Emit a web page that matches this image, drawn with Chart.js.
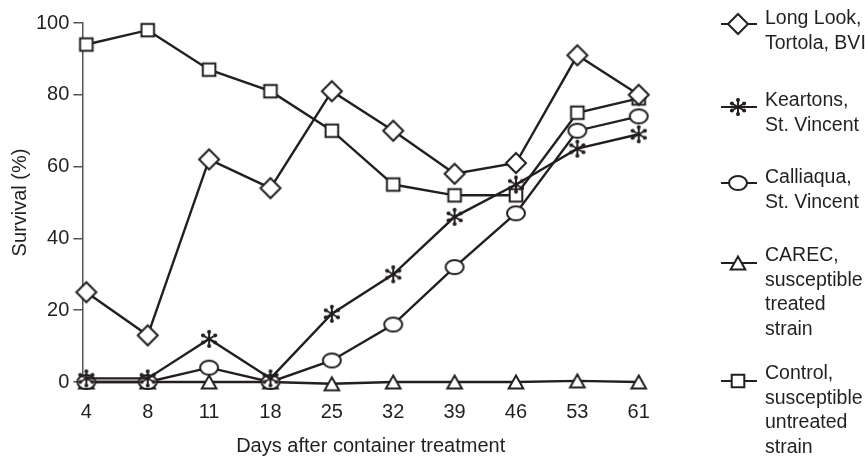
<!DOCTYPE html>
<html><head><meta charset="utf-8">
<script src="https://cdn.jsdelivr.net/npm/chart.js@4/dist/chart.umd.min.js"></script>
<style>html,body{margin:0;padding:0;background:#fff;}canvas{display:block;}</style>
</head><body>
<canvas id="c" width="865" height="457"></canvas>
<script>
// ---- data ----
const categories = ['4', '8', '11', '18', '25', '32', '39', '46', '53', '61'];
const yTicks = [0, 20, 40, 60, 80, 100];
const longLook  = [25, 13, 62, 54, 81, 70, 58, 61, 91, 80];
const keartons  = [1, 1, 12, 1, 19, 30, 46, 55, 65, 69];
const calliaqua = [0, 0, 4, 0, 6, 16, 32, 47, 70, 74];
const carec     = [0, 0, 0, 0, -0.5, 0, 0, 0, 0.3, 0];
const control   = [94, 98, 87, 81, 70, 55, 52, 52, 75, 79];
const seriesNames = ['Long Look, Tortola, BVI', 'Keartons, St. Vincent', 'Calliaqua, St. Vincent',
  'CAREC, susceptible treated strain', 'Control, susceptible untreated strain'];
const legendLines = [
  ['Long Look,', 'Tortola, BVI'],
  ['Keartons,', 'St. Vincent'],
  ['Calliaqua,', 'St. Vincent'],
  ['CAREC,', 'susceptible', 'treated', 'strain'],
  ['Control,', 'susceptible', 'untreated', 'strain']
];
const xTitle = 'Days after container treatment';
const yTitle = 'Survival (%)';

// ---- styling ----
const INK = '#231f20';
const FONT = "'Liberation Sans', Arial, sans-serif";
const FS = 20;
const LFS = 19.5;

function makeMarker(kind) {
  const s = 28, c = s / 2;
  const cv = document.createElement('canvas');
  cv.width = s; cv.height = s;
  const g = cv.getContext('2d');
  g.strokeStyle = INK; g.fillStyle = '#fff'; g.lineWidth = 2; g.lineJoin = 'miter';
  g.beginPath();
  if (kind === 'diamond') {
    const r = 10;
    g.moveTo(c, c - r); g.lineTo(c + r, c); g.lineTo(c, c + r); g.lineTo(c - r, c); g.closePath();
    g.fill(); g.stroke();
  } else if (kind === 'square') {
    const h = 6.3;
    g.rect(c - h, c - h, 2 * h, 2 * h); g.fill(); g.stroke();
  } else if (kind === 'ellipse') {
    g.ellipse(c, c, 9, 7, 0, 0, Math.PI * 2); g.fill(); g.stroke();
  } else if (kind === 'triangle') {
    g.moveTo(c, c - 6.5); g.lineTo(c + 7.3, c + 6.5); g.lineTo(c - 7.3, c + 6.5); g.closePath();
    g.fill(); g.stroke();
  } else if (kind === 'asterisk') {
    g.lineWidth = 2; g.fillStyle = INK; g.lineCap = 'round';
    for (let k = 0; k < 6; k++) {
      const a = Math.PI / 2 + k * Math.PI / 3;
      g.moveTo(c, c); g.lineTo(c + Math.cos(a) * 8, c - Math.sin(a) * 8);
    }
    g.stroke();
    for (let k = 0; k < 6; k++) {
      const a = Math.PI / 2 + k * Math.PI / 3;
      g.beginPath(); g.arc(c + Math.cos(a) * 7, c - Math.sin(a) * 7, 2, 0, Math.PI * 2); g.fill();
    }
  }
  return cv;
}
const markers = ['diamond', 'asterisk', 'ellipse', 'triangle', 'square'].map(makeMarker);
const seriesValues = [longLook, keartons, calliaqua, carec, control];

const datasets = seriesValues.map((vals, k) => ({
  label: seriesNames[k],
  data: vals.map((v, i) => ({ x: i, y: v })),
  borderColor: INK,
  backgroundColor: '#fff',
  borderWidth: 2.4,
  tension: 0,
  pointStyle: markers[k],
  pointRadius: 10,
  clip: false
}));

// custom legend drawn at the right side
const legendFirstY = [19, 101, 178, 256, 374];
const legendMarkerDy = [5, 6, 5, 7, 7];
const sideLegend = {
  id: 'sideLegend',
  afterDraw(chart) {
    const ctx = chart.ctx;
    ctx.save();
    ctx.font = LFS + 'px ' + FONT;
    ctx.fillStyle = INK;
    ctx.textBaseline = 'middle';
    ctx.textAlign = 'left';
    legendLines.forEach((lines, k) => {
      const y0 = legendFirstY[k];
      const my = y0 + legendMarkerDy[k];
      ctx.strokeStyle = INK; ctx.lineWidth = 2;
      ctx.beginPath(); ctx.moveTo(721, my); ctx.lineTo(757, my); ctx.stroke();
      const m = markers[k];
      ctx.drawImage(m, 738 - m.width / 2, my - m.height / 2);
      lines.forEach((t, j) => ctx.fillText(t, 765, y0 + j * 24.5));
    });
    ctx.restore();
  }
};

new Chart(document.getElementById('c'), {
  type: 'line',
  data: { datasets },
  options: {
    responsive: false,
    animation: false,
    devicePixelRatio: 1,
    layout: { padding: { left: 0, right: 206, top: 23, bottom: -1 } },
    plugins: { legend: { display: false }, tooltip: { enabled: false } },
    scales: {
      x: {
        type: 'linear',
        min: -0.065,
        max: 9.33,
        afterBuildTicks: (s) => { s.ticks = categories.map((c, i) => ({ value: i })); },
        ticks: {
          callback: (v) => categories[v],
          font: { family: FONT, size: FS },
          color: INK,
          padding: 10,
          maxRotation: 0,
          autoSkip: false
        },
        grid: { display: false },
        border: { display: false },
        title: { display: true, text: xTitle, font: { family: FONT, size: FS }, color: INK, padding: { top: 0, bottom: 0 } }
      },
      y: {
        min: 0,
        max: 100,
        afterBuildTicks: (s) => { s.ticks = yTicks.map(v => ({ value: v })); },
        ticks: { font: { family: FONT, size: FS }, color: INK, padding: 4 },
        grid: { drawOnChartArea: false, drawTicks: true, tickLength: 9, color: '#555', lineWidth: 1.5 },
        border: { display: true, color: '#555', width: 1.5 },
        title: { display: true, text: yTitle, font: { family: FONT, size: FS }, color: INK, padding: { top: 8, bottom: 0 } }
      }
    }
  },
  plugins: [sideLegend]
});
</script>
</body></html>
